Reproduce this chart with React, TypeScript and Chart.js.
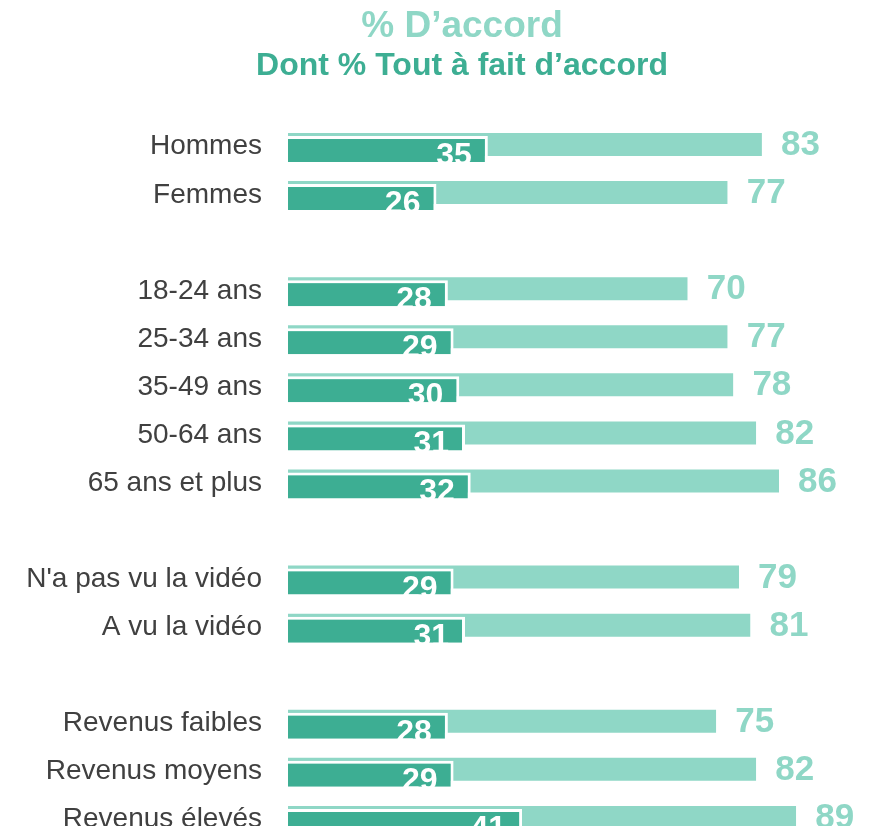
import { useEffect, useRef } from 'react';
import { Chart, registerables } from 'chart.js';

Chart.register(...registerables);

const categories = [
  'Hommes',
  'Femmes',
  '',
  '18-24 ans',
  '25-34 ans',
  '35-49 ans',
  '50-64 ans',
  '65 ans et plus',
  '',
  "N'a pas vu la vidéo",
  'A vu la vidéo',
  '',
  'Revenus faibles',
  'Revenus moyens',
  'Revenus élevés',
];
const accordValues = [83, 77, null, 70, 77, 78, 82, 86, null, 79, 81, null, 75, 82, 89];
const toutAFaitValues = [35, 26, null, 28, 29, 30, 31, 32, null, 29, 31, null, 28, 29, 41];
const titleText = '% D’accord';
const subtitleText = 'Dont % Tout à fait d’accord';

const LIGHT = '#8fd7c6';
const DARK = '#3dae93';
const FONT = "'Liberation Sans', Arial, sans-serif";

const titlesPlugin = {
  id: 'titlesPlugin',
  afterDraw(chart: any) {
    const ctx = chart.ctx;
    ctx.save();
    ctx.textAlign = 'center';
    ctx.textBaseline = 'alphabetic';
    ctx.font = `bold 37px ${FONT}`;
    ctx.fillStyle = LIGHT;
    ctx.fillText(titleText, 454, 29);
    ctx.font = `bold 32px ${FONT}`;
    ctx.fillStyle = DARK;
    ctx.fillText(subtitleText, 454, 67);
    ctx.restore();
  },
};

const layerAndLabels = {
  id: 'layerAndLabels',
  beforeDatasetDraw(_chart: any, args: any) {
    if (args.index === 1) return false;
    return true;
  },
  afterDatasetsDraw(chart: any) {
    const ctx = chart.ctx;
    const darkMeta = chart.getDatasetMeta(1);
    ctx.save();
    darkMeta.controller.draw();
    ctx.restore();

    const lightMeta = chart.getDatasetMeta(0);
    ctx.save();
    lightMeta.data.forEach((el: any, i: number) => {
      const v = accordValues[i];
      if (v === null || v === undefined) return;
      ctx.font = `bold 35px ${FONT}`;
      ctx.fillStyle = LIGHT;
      ctx.textAlign = 'left';
      ctx.textBaseline = 'middle';
      ctx.fillText(String(v), el.x + 19, el.y + 1);
    });
    darkMeta.data.forEach((el: any, i: number) => {
      const v = toutAFaitValues[i];
      if (v === null || v === undefined) return;
      ctx.font = `bold 32px ${FONT}`;
      ctx.fillStyle = '#ffffff';
      ctx.textAlign = 'right';
      ctx.textBaseline = 'alphabetic';
      ctx.fillText(String(v), el.x - 16, el.y + el.height / 2 + 3);
    });
    ctx.restore();
  },
};

export default function App() {
  const canvasRef = useRef<HTMLCanvasElement | null>(null);

  useEffect(() => {
    if (!canvasRef.current) return;
    const chart = new Chart(canvasRef.current, {
      type: 'bar',
      data: {
        labels: categories,
        datasets: [
          {
            label: '% D’accord',
            data: accordValues,
            backgroundColor: LIGHT,
            borderColor: '#ffffff',
            borderWidth: { top: 1.5, bottom: 1.5, left: 0, right: 0 },
            borderSkipped: false,
            barPercentage: 5.778,
            categoryPercentage: 0.18723,
          },
          {
            label: 'Tout à fait d’accord',
            data: toutAFaitValues,
            backgroundColor: DARK,
            borderColor: '#ffffff',
            borderWidth: { top: 3, right: 3, bottom: 0, left: 0 },
            borderSkipped: false,
            barPercentage: 5.778,
            categoryPercentage: 0.18723,
          },
        ],
      },
      options: {
        indexAxis: 'y',
        responsive: true,
        maintainAspectRatio: false,
        animation: false,
        layout: { padding: { left: 0, right: 5, top: 114.7, bottom: 44.3 } },
        scales: {
          x: { display: false, min: 0, max: 100 },
          y: {
            grid: { display: false, drawTicks: false },
            border: { display: false },
            ticks: {
              padding: 26,
              color: '#404040',
              font: { family: FONT, size: 28 },
            },
            afterFit(scale: any) {
              scale.width = 280;
              scale.paddingTop = 0;
              scale.paddingBottom = 0;
            },
          },
        },
        plugins: {
          legend: { display: false },
          tooltip: { enabled: false },
          title: { display: false },
          subtitle: { display: false },
        },
      } as any,
      plugins: [layerAndLabels, titlesPlugin],
    });
    return () => chart.destroy();
  }, []);

  return (
    <div style={{ width: 856, height: 826, overflow: 'hidden', marginBottom: -8 }}>
      <div style={{ position: 'relative', width: 856, height: 880 }}>
        <canvas ref={canvasRef} />
      </div>
    </div>
  );
}
